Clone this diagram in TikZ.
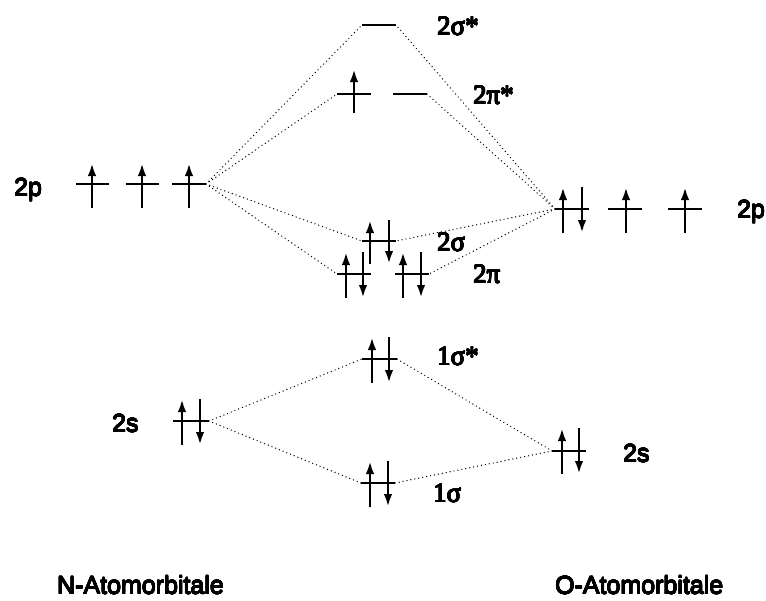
\documentclass[tikz,border=0pt]{standalone}
\usepackage{fontspec}
\usepackage[copies]{contour}
\setmainfont{Liberation Serif}
\newfontfamily\labelsans{Liberation Sans}
\usetikzlibrary{arrows.meta}
\contourlength{0.35pt}
\contournumber{16}

\tikzset{
  level/.style={line width=2.6pt},
  spin/.style={line width=2.6pt,-{Latex[length=13pt,width=8.5pt]}},
  corr/.style={line width=1.4pt,line cap=round,dash pattern=on 0pt off 4pt},
  mo/.style={anchor=base west,inner sep=0pt,font=\fontsize{27}{27}\selectfont},
  ao/.style={anchor=base west,inner sep=0pt,font=\labelsans\fontsize{25}{25}\selectfont},
}

% heavier text for the labels
\newcommand\heavy[1]{\contour{black}{#1}}
% energy level: name, left x, right x, y
\newcommand\lvl[4]{\coordinate (#1-l) at (#2,#4); \coordinate (#1-r) at (#3,#4); \draw[level] (#1-l) -- (#1-r);}
% spin arrows: x, top y, bottom y
\newcommand\spinup[3]{\draw[spin] (#1,#3) -- (#1,#2);}
\newcommand\spindn[3]{\draw[spin] (#1,#2) -- (#1,#3);}

\begin{document}
\begin{tikzpicture}[x=1pt,y=-1pt]
\useasboundingbox (0,0) rectangle (766,600);

% correlation lines (drawn first, under the levels)
\coordinate (Np-r) at (206,184);
\coordinate (Op-l) at (555,209);
\coordinate (Ns-r) at (209,421);
\coordinate (Os-l) at (552,451);
\coordinate (ss-l) at (362,25);  \coordinate (ss-r) at (396,25);
\coordinate (ps-l) at (337,94);  \coordinate (ps-r) at (427,94);
\coordinate (sb-l) at (362,241); \coordinate (sb-r) at (396,241);
\coordinate (pb-l) at (337,274); \coordinate (pb-r) at (429,274);
\coordinate (s1s-l) at (362,359); \coordinate (s1s-r) at (397,359);
\coordinate (s1-l) at (361,483); \coordinate (s1-r) at (395,483);

\draw[corr] (Np-r) -- (ss-l);
\draw[corr] (Np-r) -- (ps-l);
\draw[corr] (Np-r) -- (sb-l);
\draw[corr] (Np-r) -- (pb-l);
\draw[corr] (Op-l) -- (ss-r);
\draw[corr] (Op-l) -- (ps-r);
\draw[corr] (Op-l) -- (sb-r);
\draw[corr] (Op-l) -- (pb-r);
\draw[corr] (Ns-r) -- (s1s-l);
\draw[corr] (Ns-r) -- (s1-l);
\draw[corr] (Os-l) -- (s1s-r);
\draw[corr] (Os-l) -- (s1-r);

% N 2p
\lvl{Np1}{76}{109}{184} \spinup{92}{163}{208}
\lvl{Np2}{126}{159}{184} \spinup{142}{163}{208}
\lvl{Np3}{172}{206}{184} \spinup{189}{163}{208}

% O 2p
\lvl{Op1}{555}{589}{209} \spinup{563}{187}{233} \spindn{582}{187}{233}
\lvl{Op2}{608}{642}{209} \spinup{626}{187}{233}
\lvl{Op3}{668}{702}{209} \spinup{685}{187}{233}

% 2sigma*
\draw[level] (ss-l) -- (ss-r);
% 2pi*
\draw[level] (ps-l) -- ++(34,0); \spinup{354}{69}{113}
\draw[level] (393,94) -- (ps-r);
% 2sigma
\draw[level] (sb-l) -- (sb-r); \spinup{370}{220}{264} \spindn{389}{220}{264}
% 2pi
\draw[level] (pb-l) -- ++(34,0); \spinup{346}{252}{298} \spindn{363}{252}{298}
\draw[level] (395,274) -- (pb-r); \spinup{403}{252}{298} \spindn{421}{252}{298}

% N 2s
\lvl{Ns}{173}{209}{421} \spinup{182}{399}{445} \spindn{200}{399}{445}
% O 2s
\lvl{Os}{552}{586}{451} \spinup{562}{428}{474} \spindn{579}{428}{474}
% 1sigma*
\draw[level] (s1s-l) -- (s1s-r); \spinup{372}{337}{383} \spindn{389}{337}{383}
% 1sigma
\draw[level] (s1-l) -- (s1-r); \spinup{370}{461}{507} \spindn{388}{461}{507}

% MO labels
\node[mo] (Lss) at (437,35) {\heavy{2σ*}};
\node[mo] (Lps) at (473,104) {\heavy{2π*}};
\node[mo] (Lsb) at (437,251) {\heavy{2σ}};
\node[mo] (Lpb) at (473,283) {\heavy{2π}};
\node[mo] (Ls1s) at (437,365) {\heavy{1σ*}};
\node[mo] (Ls1) at (433,502) {\heavy{1σ}};

% AO labels
\node[ao] (LNp) at (14,196) {\heavy{2p}};
\node[ao] (LOp) at (737,218) {\heavy{2p}};
\node[ao] (LNs) at (112,432) {\heavy{2s}};
\node[ao] (LOs) at (623,462) {\heavy{2s}};
\node[ao] (LN) at (57,594) {\heavy{N-Atomorbitale}};
\node[ao] (LO) at (555,594) {\heavy{O-Atomorbitale}};
\end{tikzpicture}
\end{document}
